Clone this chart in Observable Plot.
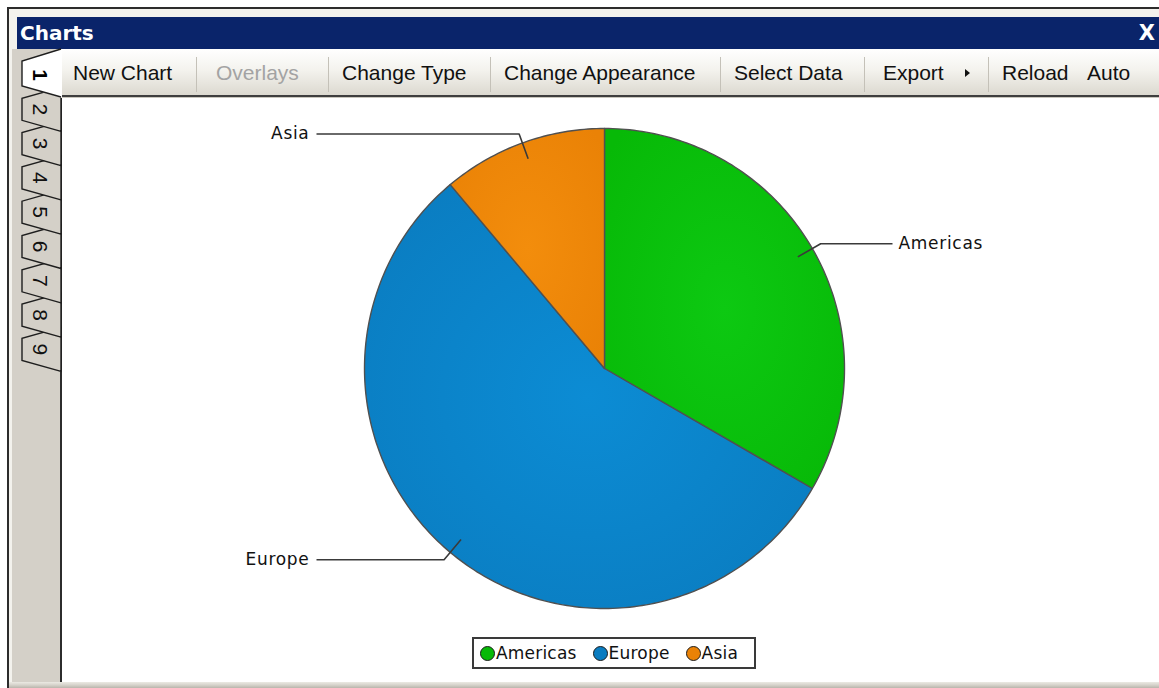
<!DOCTYPE html>
<html>
<head>
<meta charset="utf-8">
<script src="https://cdn.jsdelivr.net/npm/d3@7"></script>
<script src="https://cdn.jsdelivr.net/npm/@observablehq/plot@0.6"></script>
<style>
  html, body { margin: 0; padding: 0; width: 1159px; height: 688px; overflow: hidden; background: #fff; }
  .abs { position: absolute; }
  #outerL { left: 7px; top: 7px; width: 2px; height: 681px; background: #2c2c2c; }
  #outerT { left: 7px; top: 7px; width: 1152px; height: 2px; background: #2c2c2c; }
  #inner { left: 9px; top: 9px; width: 1150px; height: 679px; background: #f3f2ed; }
  #strip { left: 12px; top: 49px; width: 48px; height: 639px; background: #d4d0c8; }
  #titlebar { left: 17px; top: 17px; width: 1142px; height: 32px; background: #0a246a;
    color: #fff; font: bold 20px "DejaVu Sans", sans-serif; line-height: 32px; }
  #titlebar .t { position: absolute; left: 3px; top: 0; }
  #titlebar .x { position: absolute; right: 4px; top: 0; font-size: 21px; }
  #toolbar { left: 62px; top: 49px; width: 1097px; height: 46px;
    background: linear-gradient(#ffffff, #f4f3ee 45%, #dcd9d0);
    border-bottom: 2px solid #3e3e3e; }
  #toolbarShade { left: 62px; top: 97px; width: 1097px; height: 1px; background: #c9c6bd; }
  .tb { position: absolute; top: 49px; height: 48px;
    font: 21px "Liberation Sans", Arial, sans-serif; line-height: 48px; color: #111; white-space: nowrap; }
  .tb.off { color: #a3a3a3; }
  .sep { position: absolute; top: 57px; width: 1px; height: 35px; background: #c4c1b8; }
  .arrow { position: absolute; width: 0; height: 0; border-left: 5px solid #111;
    border-top: 4px solid transparent; border-bottom: 4px solid transparent; }
  #content { left: 62px; top: 98px; width: 1097px; height: 584px; background: #fff; }
  #contentL { left: 60px; top: 96px; width: 2px; height: 586px; background: #2c2c2c; }
  #bottom { left: 9px; top: 682px; width: 1150px; height: 6px;
    background: linear-gradient(#ebe9e3, #d6d3cb 50%, #b9b5ac); }
  #tabs { position: absolute; left: 0; top: 0; }
  #chart { position: absolute; left: 62px; top: 98px; }
  #chart text { letter-spacing: 0.7px; }
  #legend { position: absolute; left: 472px; top: 637px; width: 284px; height: 32px;
    box-sizing: border-box; border: 2px solid #3a3a3a; background: #fff;
    display: flex; align-items: center; justify-content: flex-start; gap: 16px; padding-left: 6px;
    font: 17px "DejaVu Sans", sans-serif; letter-spacing: 0.2px; color: #111; }
  #legend .item { display: flex; align-items: center; }
  #legend .dot { width: 15px; height: 15px; border-radius: 50%; border: 1.5px solid #1c1c1c;
    margin-right: 1px; box-sizing: border-box; }
</style>
</head>
<body>
<div id="outerL" class="abs"></div>
<div id="outerT" class="abs"></div>
<div id="inner" class="abs"></div>
<div id="strip" class="abs"></div>
<div id="titlebar" class="abs"><span class="t">Charts</span><span class="x">X</span></div>
<div id="toolbar" class="abs"></div>
<div id="toolbarShade" class="abs"></div>
<div id="content" class="abs"></div>
<div id="contentL" class="abs"></div>
<div id="bottom" class="abs"></div>
<svg id="tabs" width="62" height="688"></svg>
<div id="chart"></div>
<div id="legend"></div>
<script>
// Regional shares shown in the pie
const regions = ["Americas", "Europe", "Asia"];
const values = [30, 50, 10];
const sliceColors = ["#07b907", "#0a7cc0", "#ea8206"];
const sliceHighlights = ["#0dc912", "#0c8cd4", "#f38d0c"];

// Toolbar and tab labels
const toolbarLabels = ["New Chart", "Overlays", "Change Type", "Change Appearance", "Select Data", "Export", "Reload", "Auto"];
const toolbarDisabled = ["Overlays"];
const tabLabels = ["1", "2", "3", "4", "5", "6", "7", "8", "9"];

// ---- window chrome ----
const itemLeft = [73, 216, 342, 504, 734, 883, 1002, 1087];
const sepLeft = [196, 328, 490, 720, 864, 988];
toolbarLabels.forEach((label, i) => {
  const el = document.createElement("div");
  el.className = "tb" + (toolbarDisabled.includes(label) ? " off" : "");
  el.style.left = itemLeft[i] + "px";
  el.textContent = label;
  document.body.appendChild(el);
  if (label === "Export") {
    const a = document.createElement("div");
    a.className = "arrow";
    a.style.left = "965px";
    a.style.top = "69px";
    document.body.appendChild(a);
  }
});
sepLeft.forEach(x => {
  const s = document.createElement("div");
  s.className = "sep";
  s.style.left = x + "px";
  document.body.appendChild(s);
});

// vertical tabs on the left edge
const tabs = d3.select("#tabs");
const tabTop = 75, tabStep = 34.3;
const xl = 22, xr = 61;
for (let i = tabLabels.length - 1; i >= 1; i--) {
  const c = tabTop + i * tabStep;
  tabs.append("polygon")
    .attr("points", `${xr},${c - 22} ${xl},${c - 11} ${xl},${c + 11} ${xr},${c + 22}`)
    .attr("fill", "#d4d0c8").attr("stroke", "#1e1e1e").attr("stroke-width", 1.4);
  tabs.append("text")
    .attr("transform", `translate(41,${c}) rotate(90)`)
    .attr("text-anchor", "middle").attr("dy", "0.36em")
    .attr("font-family", "Liberation Sans, Arial, sans-serif").attr("font-size", 21)
    .attr("fill", "#111").text(tabLabels[i]);
}
// active tab
tabs.append("polygon")
  .attr("points", `62,49 ${xl},61 ${xl},86 62,98`)
  .attr("fill", "#fff");
tabs.append("polyline")
  .attr("points", `61,49 ${xl},61 ${xl},86 61,97`)
  .attr("fill", "none").attr("stroke", "#1e1e1e").attr("stroke-width", 1.4);
tabs.append("text")
  .attr("transform", `translate(41,${tabTop}) rotate(90)`)
  .attr("text-anchor", "middle").attr("dy", "0.36em")
  .attr("font-family", "Liberation Sans, Arial, sans-serif").attr("font-size", 21)
  .attr("font-weight", "bold").attr("fill", "#000").text(tabLabels[0]);

// ---- pie chart ----
const rows = regions.map((name, i) => ({name, value: values[i]}));
const arcs = d3.pie().sort(null).value(d => d.value)(rows); // clockwise from 12 o'clock

const slicePoints = arcs.flatMap(a => {
  const name = a.data.name;
  const n = Math.max(2, Math.ceil((a.endAngle - a.startAngle) / (Math.PI / 180)));
  const pts = [{name, x: 0, y: 0}];
  for (let k = 0; k <= n; k++) {
    const t = a.startAngle + (a.endAngle - a.startAngle) * k / n;
    pts.push({name, x: Math.sin(t), y: Math.cos(t)});
  }
  return pts;
});

// leader lines: inside the slice -> elbow just outside the rim -> horizontal run
const leaderPoints = arcs.flatMap(a => {
  const name = a.data.name;
  const m = (a.startAngle + a.endAngle) / 2;
  const side = Math.sin(m) >= 0 ? 1 : -1;
  const ey = 1.04 * Math.cos(m);
  return [
    {name, x: 0.93 * Math.sin(m), y: 0.93 * Math.cos(m)},
    {name, x: 1.04 * Math.sin(m), y: ey},
    {name, x: 1.2 * side, y: ey}
  ];
});
const labelRows = arcs.map(a => {
  const m = (a.startAngle + a.endAngle) / 2;
  const side = Math.sin(m) >= 0 ? 1 : -1;
  return {name: a.data.name, side, x: 1.2 * side, y: 1.04 * Math.cos(m)};
});

const W = 1097, H = 536, R = 240, CX = 542, CY = 270;
const chart = Plot.plot({
  width: W,
  height: H,
  margin: 0,
  style: {fontFamily: "DejaVu Sans, sans-serif", fontSize: "17px", color: "#111", background: "transparent"},
  x: {domain: [-CX / R, (W - CX) / R], axis: null},
  y: {domain: [-(H - CY) / R, CY / R], axis: null},
  color: {domain: regions, range: regions.map((d, i) => `url(#slice-fill-${i})`)},
  marks: [
    Plot.line(slicePoints, {x: "x", y: "y", z: "name", fill: "name", stroke: "#505050", strokeWidth: 1.4, curve: "linear-closed"}),
    Plot.line(leaderPoints, {x: "x", y: "y", z: "name", stroke: "#3a3a3a", strokeWidth: 1.6, strokeLinecap: "butt"}),
    Plot.text(labelRows.filter(d => d.side > 0), {x: "x", y: "y", text: "name", textAnchor: "start", dx: 6, fill: "#111"}),
    Plot.text(labelRows.filter(d => d.side < 0), {x: "x", y: "y", text: "name", textAnchor: "end", dx: -7, fill: "#111"})
  ]
});

// soft radial shading for each slice
const defs = d3.select(chart).insert("defs", ":first-child");
regions.forEach((r, i) => {
  const g = defs.append("radialGradient").attr("id", `slice-fill-${i}`)
    .attr("cx", "50%").attr("cy", "50%").attr("r", "65%");
  g.append("stop").attr("offset", "0%").attr("stop-color", sliceHighlights[i]);
  g.append("stop").attr("offset", "100%").attr("stop-color", sliceColors[i]);
});
document.getElementById("chart").appendChild(chart);

// legend
const legend = d3.select("#legend");
regions.forEach((r, i) => {
  const item = legend.append("div").attr("class", "item");
  item.append("div").attr("class", "dot").style("background", sliceColors[i]);
  item.append("span").text(r);
});
</script>
</body>
</html>
